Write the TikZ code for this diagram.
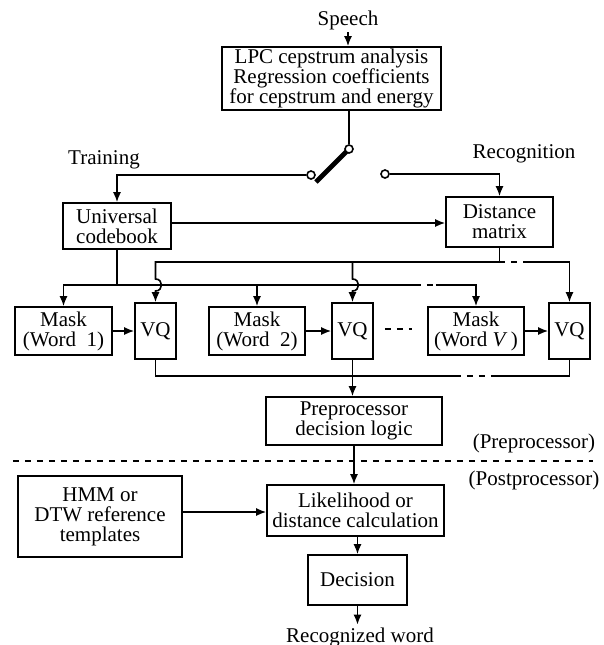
\documentclass[tikz,border=0pt]{standalone}
\usepackage{fontspec}
\setmainfont{Liberation Serif}
\usepackage{tikz}
\usetikzlibrary{arrows.meta}

\begin{document}
\begin{tikzpicture}[x=0.5pt,y=-0.5pt,line width=0.8pt,>={Latex[length=5pt,width=4pt]},
    blk/.style={draw,align=center,inner sep=1pt,font=\fontsize{10.5}{10}\selectfont},
    lbl/.style={align=center,inner sep=1pt,font=\fontsize{10.5}{10}\selectfont},
    contact/.style={circle,draw,fill=white,inner sep=0pt,minimum size=4pt},
    dsh/.style={dash pattern=on 3pt off 3pt}]
            \useasboundingbox (0,0) rectangle (604,645);
            \node[lbl] (sp) at (348,20) {Speech};
            \node[blk,minimum width=109.5pt,minimum height=29.5pt] (lpc) at (331.5,78.5) {LPC cepstrum analysis\\Regression coefficients\\for cepstrum and energy};
            \draw[->] (sp.south) -- (sp.south |- lpc.north);
            \coordinate (armE) at (316,182);
            \draw[line width=2.4pt] (349,149) -- (armE);
            \node[contact] (swT) at (349,149) {};
            \node[contact] (swL) at (311,175) {};
            \node[contact] (swR) at (385,174) {};
            \draw (swT |- lpc.south) -- (swT.north);
            \node[lbl] (trn) at (104,160) {Training};
            \node[lbl] (rec) at (524,154) {Recognition};
            \node[blk,minimum width=54pt,minimum height=23pt] (ucb) at (117,226) {Universal\\codebook};
            \node[blk,minimum width=53.5pt,minimum height=25pt] (dist) at (499.5,222) {Distance\\matrix};
            \draw[->] (swL.west) -| (ucb.north);
            \draw[->] (swR.east) -| (dist.north);
            \draw[->] (ucb.east |- 0,223) -- (dist.west |- 0,223);
            \node[blk,minimum width=48.5pt,minimum height=24pt] (m1) at (63.5,331) {Mask\\(Word\ \ 1)};
            \node[blk,minimum width=20.5pt,minimum height=28pt] (vq1) at (155.5,331) {VQ};
            \node[blk,minimum width=48pt,minimum height=24pt] (m2) at (257,331) {Mask\\(Word\ \ 2)};
            \node[blk,minimum width=20.5pt,minimum height=28pt] (vq2) at (352.5,331) {VQ};
            \node[blk,minimum width=48pt,minimum height=24pt] (mV) at (476,331) {Mask\\(Word \textit{V}\,)};
            \node[blk,minimum width=20.5pt,minimum height=28pt] (vqV) at (569.5,331) {VQ};
            \coordinate (ub) at (0,262);
            \coordinate (lb) at (0,285);
            \coordinate (ubD) at (528,262);
            \coordinate (lbA) at (415,285);
            \coordinate (lbB) at (436,285);
            \draw (dist.south) -- (dist.south |- ub);
            \draw[->] (dist.south |- ub) -| ([yshift=3pt]vq1.north |- lb) .. controls +(4pt,0) and +(4pt,0) .. ([yshift=-3pt]vq1.north |- lb) -- (vq1.north);
            \draw[->] (vq2.north |- ub) -- ([yshift=3pt]vq2.north |- lb) .. controls +(4pt,0) and +(4pt,0) .. ([yshift=-3pt]vq2.north |- lb) -- (vq2.north);
            \draw[dsh] (dist.south |- ub) -- (ubD);
            \draw[->] (ubD) -| (vqV.north);
            \draw (ucb.south) -- (ucb.south |- lb);
            \draw[->] (ucb.south |- lb) -| (m1.north);
            \draw (ucb.south |- lb) -- (lbA);
            \draw[dsh] (lbA) -- (lbB);
            \draw[->] (lbB) -| (mV.north);
            \draw[->] (m2.north |- lb) -- (m2.north);
            \draw[->] (m1.east) -- (vq1.west);
            \draw[->] (m2.east) -- (vq2.west);
            \draw[->] (mV.east) -- (vqV.west);
            \coordinate (dotA) at (385,329);
            \coordinate (dotB) at (412,329);
            \draw[dsh] (dotA) -- (dotB);
            \node[blk,minimum width=88pt,minimum height=24pt] (pre) at (354,421) {Preprocessor\\decision logic};
            \coordinate (obA) at (455,376);
            \coordinate (obB) at (497,376);
            \draw (vq1.south) |- (obA);
            \draw[dsh] (obA) -- (obB);
            \draw (obB) -| (vqV.south);
            \draw[->] (vq2.south) -- (vq2.south |- pre.north);
            \coordinate (sepL) at (13,461);
            \coordinate (sepR) at (593,461);
            \draw[dsh] (sepL) -- (sepR);
            \node[lbl] (prel) at (534,443) {(Preprocessor)};
            \node[lbl] (postl) at (534,480) {(Postprocessor)};
            \node[blk,minimum width=82pt,minimum height=40.5pt] (hmm) at (100,516.5) {HMM or\\DTW reference\\templates};
            \node[blk,minimum width=88.5pt,minimum height=25.5pt] (lik) at (355.5,510.5) {Likelihood or\\distance calculation};
            \node[blk,minimum width=49.5pt,minimum height=25pt] (dec) at (357.5,580) {Decision};
            \node[lbl] (rw) at (360,637) {Recognized word};
            \draw[->] (pre.south) -- (pre.south |- lik.north);
            \draw[->] (hmm.east |- 0,512) -- (lik.west |- 0,512);
            \draw[->] (dec.north |- lik.south) -- (dec.north);
            \draw[->] (dec.south) -- (dec.south |- rw.north);
        \end{tikzpicture}
\end{document}
